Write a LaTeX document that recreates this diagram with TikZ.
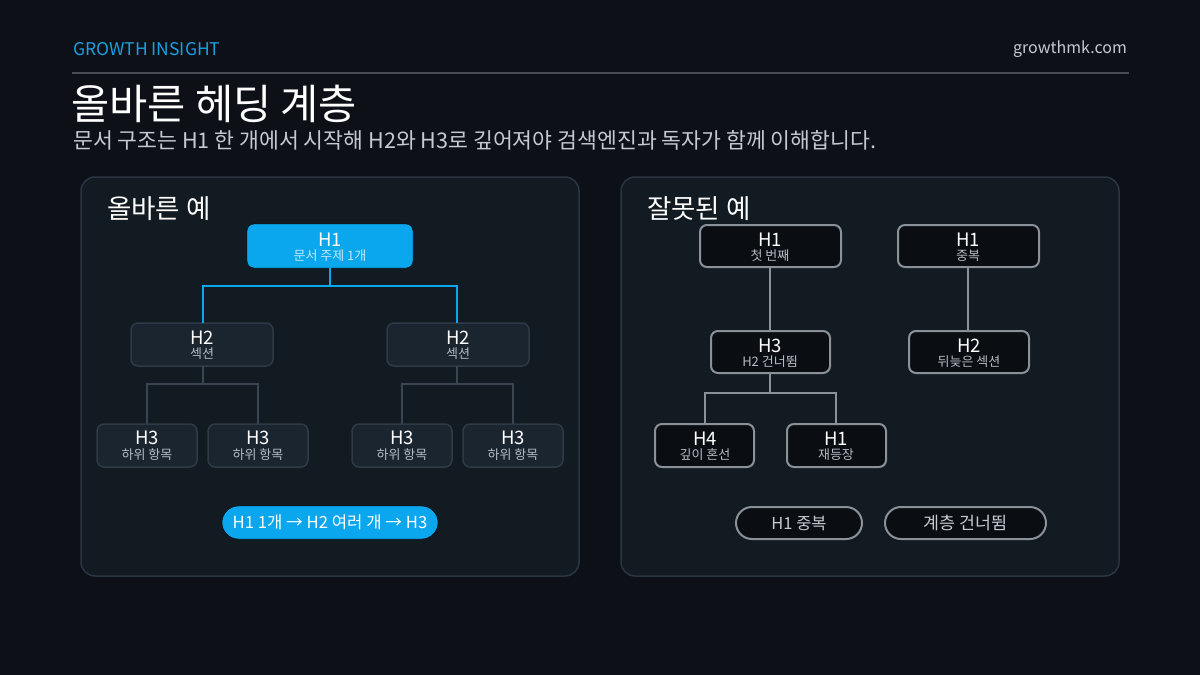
\documentclass[tikz,border=0pt]{standalone}
\usepackage{fontspec}
\setmainfont{Noto Sans CJK KR}
\usetikzlibrary{positioning}
\definecolor{bg}{HTML}{0D1117}
\definecolor{panel}{HTML}{121A22}
\definecolor{panelborder}{HTML}{2A3540}
\definecolor{accent}{HTML}{0AA6EE}
\definecolor{headblue}{HTML}{1A9FE0}
\definecolor{sub}{HTML}{C4CAD1}
\definecolor{goodfill}{HTML}{1A2530}
\definecolor{goodborder}{HTML}{2E3A46}
\definecolor{goodline}{HTML}{3A4552}
\definecolor{badfill}{HTML}{0A0E13}
\definecolor{badborder}{HTML}{8A9199}
\definecolor{smalltext}{HTML}{B4BCC5}
\tikzset{
  panelbox/.style={draw=panelborder, line width=1.5pt, fill=panel, rounded corners=14pt},
  bluebox/.style={fill=accent, rounded corners=7pt},
  goodbox/.style={fill=goodfill, draw=goodborder, line width=1.5pt, rounded corners=7pt},
  badbox/.style={fill=badfill, draw=badborder, line width=2pt, rounded corners=7pt},
  badpill/.style={fill=badfill, draw=badborder, line width=2pt, rounded corners=16pt},
  bigtxt/.style={text=white, font=\fontsize{18.5}{20}\selectfont, inner sep=0pt},
  smtxt/.style={text=smalltext, font=\fontsize{13}{14}\selectfont, inner sep=0pt},
  blueline/.style={draw=accent, line width=2.5pt},
  grayline/.style={draw=goodline, line width=2.5pt},
  badline/.style={draw=badborder, line width=2pt},
}
\begin{document}
\begin{tikzpicture}[x=1pt,y=-1pt]
\fill[bg] (0,0) rectangle (1200,675);
\useasboundingbox (0,0) rectangle (1200,675);

% header
\node[anchor=west, text=headblue, font=\fontsize{17.5}{19}\selectfont, inner sep=0pt] (brand) at (73,49) {GROWTH INSIGHT};
\node[anchor=east, text=sub, font=\fontsize{16}{18}\selectfont, inner sep=0pt] (site) at (1127,49) {growthmk.com};
\draw[draw=white!25!bg, line width=2pt] (72,73) -- (1129,73);
\node[anchor=west, text=white, font=\fontsize{41.5}{44}\selectfont, inner sep=0pt] (title) at (71,104) {올바른 헤딩 계층};
\node[anchor=west, text=sub, font=\fontsize{21.6}{24}\selectfont, inner sep=0pt] (subtitle) at (73,140) {문서 구조는 H1 한 개에서 시작해 H2와 H3로 깊어져야 검색엔진과 독자가 함께 이해합니다.};

% panels
\draw[panelbox] (81,177) rectangle (579,576);
\draw[panelbox] (621,177) rectangle (1119,576);
\node[anchor=west, text=white, font=\fontsize{26.5}{28}\selectfont, inner sep=0pt] (lt) at (107,209) {올바른 예};
\node[anchor=west, text=white, font=\fontsize{26.5}{28}\selectfont, inner sep=0pt] (rt) at (647,209) {잘못된 예};

% ---- left tree ----
\draw[bluebox] (247,224) rectangle (413,268);
\node[bigtxt] at (330,240) {H1};
\node[text=white!75!accent, font=\fontsize{13}{14}\selectfont, inner sep=0pt] at (330,256) {문서 주제 1개};
\coordinate (g1b) at (330,268);

\draw[goodbox] (131,323) rectangle (273,366);
\node[bigtxt] at (202,338) {H2};
\node[smtxt] at (202,354) {섹션};
\coordinate (g2at) at (203,323); \coordinate (g2ab) at (203,366);
\draw[goodbox] (387,323) rectangle (529,366);
\node[bigtxt] at (458,338) {H2};
\node[smtxt] at (458,354) {섹션};
\coordinate (g2bt) at (457,323); \coordinate (g2bb) at (457,366);

\foreach \x/\n in {97/a,208/b,352/c,463/d}{
  \draw[goodbox] (\x,424) rectangle (\x+100,467);
  \node[bigtxt] at (\x+50,438) {H3};
  \node[smtxt] at (\x+50,455) {하위 항목};
}
\coordinate (g3a) at (147,424); \coordinate (g3b) at (258,424);
\coordinate (g3c) at (402,424); \coordinate (g3d) at (513,424);

\draw[blueline] (g1b) -- (330,286);
\draw[blueline] (g2at) |- (330,286) -| (g2bt);
\draw[grayline] (g2ab) -- (203,384);
\draw[grayline] (g3a) |- (203,384) -| (g3b);
\draw[grayline] (g2bb) -- (457,384);
\draw[grayline] (g3c) |- (457,384) -| (g3d);

\draw[fill=accent, rounded corners=16.5pt] (222,506) rectangle (438,539);
\node[text=white, font=\fontsize{16.7}{18}\selectfont, inner sep=0pt] (lp) at (330,522.5) {H1 1개 → H2 여러 개 → H3};

% ---- right tree ----
\draw[badbox] (700,225) rectangle (841,267);
\node[bigtxt] at (770,240) {H1};
\node[smtxt] at (770,256) {첫 번째};
\draw[badbox] (898,225) rectangle (1039,267);
\node[bigtxt] at (968,240) {H1};
\node[smtxt] at (968,256) {중복};
\draw[badbox] (711,331) rectangle (830,373);
\node[bigtxt] at (770,346) {H3};
\node[smtxt] at (770,362) {H2 건너뜀};
\draw[badbox] (909,331) rectangle (1029,373);
\node[bigtxt] at (969,346) {H2};
\node[smtxt] at (969,362) {뒤늦은 섹션};
\draw[badbox] (655,424) rectangle (754,467);
\node[bigtxt] at (705,439) {H4};
\node[smtxt] at (705,455) {깊이 혼선};
\draw[badbox] (787,424) rectangle (886,467);
\node[bigtxt] at (836,439) {H1};
\node[smtxt] at (836,455) {재등장};

\coordinate (b1) at (770,267); \coordinate (b3t) at (770,331);
\coordinate (b1d) at (968,267); \coordinate (b2t) at (968,331);
\coordinate (b3b) at (770,373);
\coordinate (b4t) at (705,424); \coordinate (b5t) at (836,424);
\draw[badline] (b1) -- (b3t);
\draw[badline] (b1d) -- (b2t);
\draw[badline] (b3b) -- (770,393);
\draw[badline] (b4t) |- (770,393) -| (b5t);

\draw[badpill] (736,507) rectangle (862,539);
\node[text=sub, font=\fontsize{16.5}{18}\selectfont, inner sep=0pt] at (799,523) {H1 중복};
\draw[badpill] (885,507) rectangle (1046,539);
\node[text=sub, font=\fontsize{17.3}{18}\selectfont, inner sep=0pt] at (965.5,523) {계층 건너뜀};
\end{tikzpicture}
\end{document}
